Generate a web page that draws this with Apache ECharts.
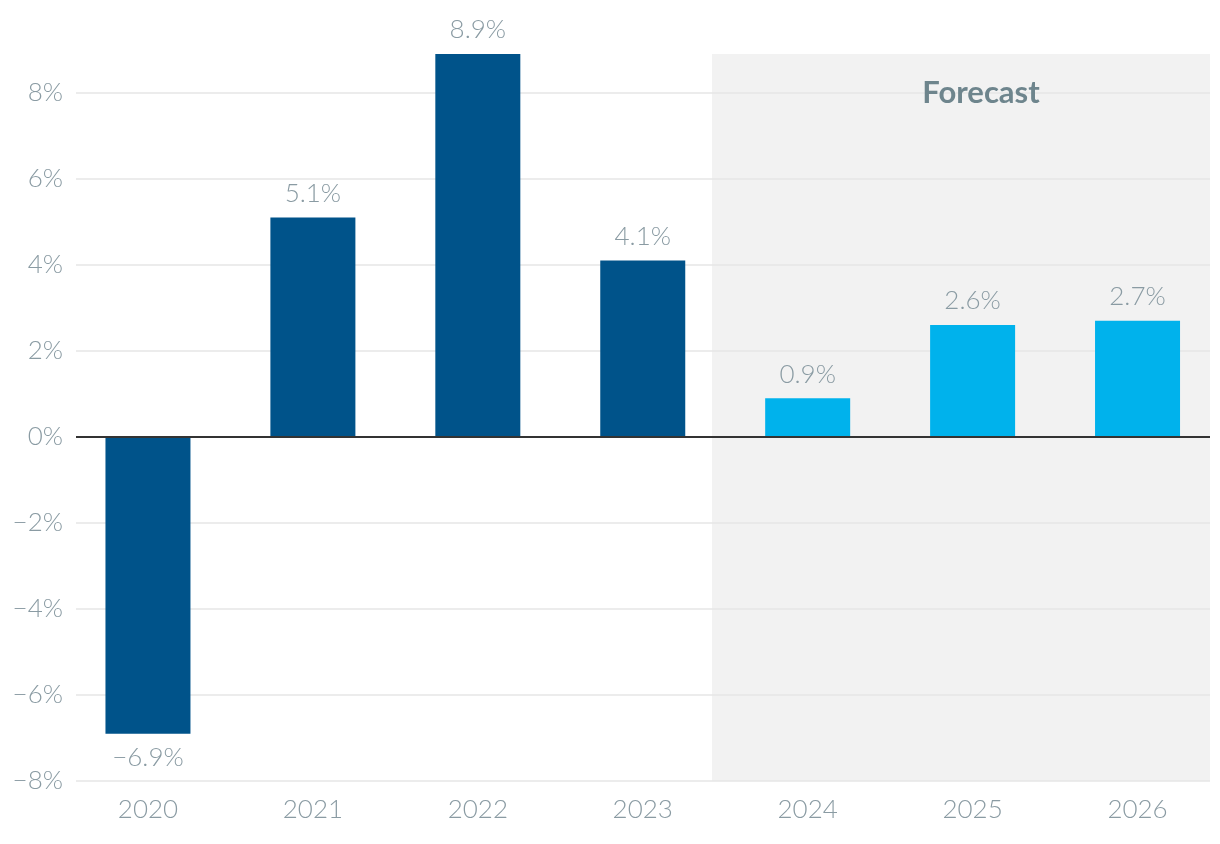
<!DOCTYPE html>
<html>
<head>
<meta charset="utf-8">
<script src="https://cdn.jsdelivr.net/npm/echarts@6/dist/echarts.min.js"></script>
<style>html,body{margin:0;padding:0;background:#fff}#c{width:1220px;height:844px}</style>
</head>
<body>
<div id="c"></div>
<script>
const years = ['2020','2021','2022','2023','2024','2025','2026'];
const values = [-6.9, 5.1, 8.9, 4.1, 0.9, 2.6, 2.7];
const isForecast = [false, false, false, false, true, true, true];
const yTicks = [-8, -6, -4, -2, 0, 2, 4, 6, 8];
const forecastLabel = 'Forecast';

const FONT = '"Lato Light", Lato';
const GRAY = '#8a9ba3';
const DARK = '#00538a';
const LIGHT = '#00b2ec';
const FS = 26;
const fmt = v => (v < 0 ? '\u2212' + Math.abs(v) : String(v)) + '%';

const chart = echarts.init(document.getElementById('c'), null, {renderer: 'canvas'});
const yMin = -8, yMax = Math.max(...values);

chart.setOption({
  animation: false,
  backgroundColor: '#ffffff',
  grid: [
    {left: 65.5, width: 1157, top: 54, bottom: 63, containLabel: false},
    {left: 76, width: 1134, top: 54, bottom: 63, containLabel: false}
  ],
  xAxis: [
    {type: 'category', gridIndex: 0, data: years, boundaryGap: true,
     axisLine: {show: false}, axisTick: {show: false}, splitLine: {show: false},
     axisLabel: {color: GRAY, fontFamily: FONT, fontWeight: 300, fontSize: FS, margin: 16}},
    {type: 'value', gridIndex: 1, min: 0, max: 1, show: false}
  ],
  yAxis: [
    {type: 'value', gridIndex: 0, min: yMin, max: yMax, show: false},
    {type: 'value', gridIndex: 1, min: yMin, max: yMax, interval: 2,
     axisLine: {show: false}, axisTick: {show: false}, splitLine: {show: false},
     axisLabel: {color: GRAY, fontFamily: FONT, fontWeight: 300, fontSize: FS, margin: 13,
       showMaxLabel: false, formatter: v => (yTicks.includes(v) ? fmt(v) : '')}}
  ],
  graphic: [{
    type: 'text', x: 981, y: 93, z: 10,
    style: {text: forecastLabel, fill: '#6e858d', font: 'bold 31px Lato', textAlign: 'center', textVerticalAlign: 'middle'}
  }],
  series: [
    {type: 'line', xAxisIndex: 1, yAxisIndex: 1, data: [], silent: true,
     markArea: {silent: true, z: 0, itemStyle: {color: '#f2f2f2'},
       data: [[{xAxis: 0.5608, yAxis: yMin}, {xAxis: 1, yAxis: yMax}]]}},
    {type: 'line', xAxisIndex: 1, yAxisIndex: 1, data: [], silent: true,
     markLine: {silent: true, z: 1, symbol: 'none', label: {show: false},
       lineStyle: {color: '#e6e6e6', width: 1.5, type: 'solid'},
       data: yTicks.filter(t => t !== 0).map(t => ({yAxis: t}))}},
    {type: 'bar', xAxisIndex: 0, yAxisIndex: 0, barWidth: 85, z: 2,
     data: values.map((v, i) => ({
       value: v,
       itemStyle: {color: isForecast[i] ? LIGHT : DARK},
       label: {position: v < 0 ? 'bottom' : 'top'}
     })),
     label: {show: true, distance: 11, color: GRAY, fontFamily: FONT, fontWeight: 300, fontSize: FS,
       formatter: p => fmt(p.value)}},
    {type: 'line', xAxisIndex: 1, yAxisIndex: 1, data: [], silent: true,
     markLine: {silent: true, z: 5, symbol: 'none', label: {show: false},
       lineStyle: {color: '#333333', width: 2, type: 'solid'},
       data: [{yAxis: 0}]}}
  ]
});
</script>
</body>
</html>
